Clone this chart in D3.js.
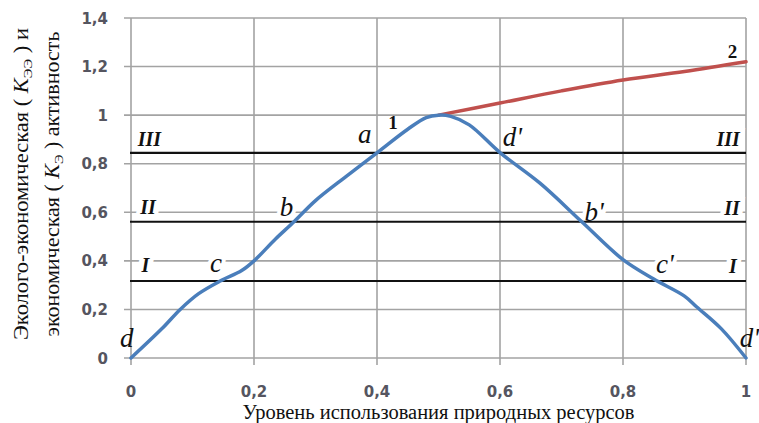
<!DOCTYPE html>
<html>
<head>
<meta charset="utf-8">
<script src="https://cdn.jsdelivr.net/npm/d3@7"></script>
<style>
  html, body { margin: 0; padding: 0; background: #fff; }
  svg { display: block; }
</style>
</head>
<body>
<svg id="chart" width="759" height="423"></svg>
<script>
// ---- data ----
const xTicks = [0, 0.2, 0.4, 0.6, 0.8, 1];
const yTicks = [0, 0.2, 0.4, 0.6, 0.8, 1, 1.2, 1.4];
const xTickLabels = ["0", "0,2", "0,4", "0,6", "0,8", "1"];
const yTickLabels = ["0", "0,2", "0,4", "0,6", "0,8", "1", "1,2", "1,4"];

// curve 1 (blue): economic activity
const curve1X = [0, 0.05, 0.08, 0.11, 0.145, 0.18, 0.2, 0.235, 0.265, 0.3, 0.35, 0.4, 0.45, 0.48, 0.5, 0.52, 0.55, 0.6, 0.665, 0.733, 0.8, 0.85, 0.9, 0.92, 0.96, 1];
const curve1Y = [0, 0.12, 0.2, 0.265, 0.317, 0.36, 0.40, 0.49, 0.561, 0.648, 0.748, 0.845, 0.942, 0.99, 1.0, 0.995, 0.96, 0.846, 0.72, 0.561, 0.405, 0.325, 0.255, 0.21, 0.12, 0];

// curve 2 (red): ecological-economic activity
const curve2X = [0.5, 0.6, 0.7, 0.8, 0.9, 1];
const curve2Y = [1.0, 1.05, 1.1, 1.145, 1.18, 1.22];

// horizontal level lines I, II, III
const levelNames = ["I", "II", "III"];
const levelValues = [0.317, 0.561, 0.845];

// point annotations
const pointLabels = ["d", "c", "b", "a", "d'", "b'", "c'", "d'"];
const pointLabelX = [-0.007, 0.138, 0.253, 0.380, 0.620, 0.753, 0.868, 0.990];
const pointLabelY = [0.046, 0.354, 0.583, 0.885, 0.873, 0.564, 0.350, 0.046];
const pointLabelHalo = [false, true, true, false, false, true, true, false];

const curveNames = ["1", "2"];
const curveNameX = [0.426, 0.978];
const curveNameY = [0.945, 1.235];

// ---- layout ----
const svg = d3.select("#chart");
const m = { left: 131, top: 18, right: 13, bottom: 65 };
const W = 759 - m.left - m.right;   // 615
const H = 423 - m.top - m.bottom;   // 340

const x = d3.scaleLinear().domain([0, 1]).range([m.left, m.left + W]);
const y = d3.scaleLinear().domain([0, 1.4]).range([m.top + H, m.top]);

const gridColor = "#a3a3a3";
const g = svg.append("g");

// horizontal gridlines + left tick marks
g.selectAll("line.hgrid").data(yTicks).join("line")
  .attr("x1", x(0) - 7).attr("x2", x(1))
  .attr("y1", d => y(d)).attr("y2", d => y(d))
  .attr("stroke", gridColor).attr("stroke-width", 1.6);

// vertical gridlines + bottom tick marks
g.selectAll("line.vgrid").data(xTicks).join("line")
  .attr("x1", d => x(d)).attr("x2", d => x(d))
  .attr("y1", y(1.4)).attr("y2", y(0) + 7)
  .attr("stroke", gridColor).attr("stroke-width", 1.6);

// tick labels
const tickFont = "'DejaVu Sans', Verdana, sans-serif";
g.selectAll("text.yt").data(yTicks).join("text")
  .attr("x", 108).attr("y", d => y(d) + 5.5)
  .attr("text-anchor", "end")
  .attr("font-family", tickFont).attr("font-size", 15).attr("font-weight", "bold")
  .attr("fill", "#555560")
  .text((d, i) => yTickLabels[i]);

g.selectAll("text.xt").data(xTicks).join("text")
  .attr("x", d => x(d)).attr("y", 397)
  .attr("text-anchor", "middle")
  .attr("font-family", tickFont).attr("font-size", 15).attr("font-weight", "bold")
  .attr("fill", "#555560")
  .text((d, i) => xTickLabels[i]);

// annotation helpers
const serif = "'Liberation Serif', 'Times New Roman', serif";
const romanLeftX = [0.017, 0.015, 0.011];
const romanRightX = [0.985, 0.990, 0.990];
const romanY = [0.354, 0.593, 0.875];

const ann = [];
levelNames.forEach((n, i) => {
  ann.push({ t: n, x: romanLeftX[i], y: romanY[i], anchor: "start", halo: true, style: "roman" });
  ann.push({ t: n, x: romanRightX[i], y: romanY[i] - 0.004, anchor: "end", halo: true, style: "roman" });
});
pointLabels.forEach((t, i) => {
  ann.push({ t, x: pointLabelX[i], y: pointLabelY[i], anchor: i === 7 ? "start" : "middle", halo: pointLabelHalo[i], style: "point" });
});
curveNames.forEach((t, i) => {
  ann.push({ t, x: curveNameX[i], y: curveNameY[i], anchor: "middle", halo: false, style: "num" });
});

function styleText(sel) {
  sel.attr("x", d => x(d.x)).attr("y", d => y(d.y))
    .attr("text-anchor", d => d.anchor)
    .attr("font-family", serif)
    .attr("font-size", d => d.style === "roman" ? 20 : d.style === "point" ? 27 : 19)
    .attr("font-style", d => d.style === "num" ? "normal" : "italic")
    .attr("font-weight", d => d.style === "point" ? "normal" : "bold")
    .text(d => d.t);
}

// halos (white) to break gridlines behind labels
g.selectAll("text.halo").data(ann.filter(d => d.halo)).join("text")
  .call(styleText)
  .attr("fill", "#fff").attr("stroke", "#fff").attr("stroke-width", 8);

// level lines
g.selectAll("line.level").data(levelValues).join("line")
  .attr("x1", x(0) - 1).attr("x2", x(1))
  .attr("y1", d => y(d)).attr("y2", d => y(d))
  .attr("stroke", "#111").attr("stroke-width", 2.2);

// curves
const line = d3.line().x(d => x(d[0])).y(d => y(d[1])).curve(d3.curveCatmullRom.alpha(0.5));
g.append("path")
  .datum(curve2X.map((v, i) => [v, curve2Y[i]]))
  .attr("d", line).attr("fill", "none")
  .attr("stroke", "#c0504d").attr("stroke-width", 3.5).attr("stroke-linecap", "round");
g.append("path")
  .datum(curve1X.map((v, i) => [v, curve1Y[i]]))
  .attr("d", line).attr("fill", "none")
  .attr("stroke", "#4a7ebb").attr("stroke-width", 3.5).attr("stroke-linecap", "round");

// annotation text
g.selectAll("text.ann").data(ann).join("text")
  .call(styleText)
  .attr("fill", "#111");

// x-axis title
svg.append("text")
  .attr("x", x(0.5)).attr("y", 419)
  .attr("text-anchor", "middle")
  .attr("font-family", serif).attr("font-size", 20.5).attr("fill", "#111")
  .text("Уровень использования природных ресурсов");

// y-axis title (two rotated lines)
function yTitle(cx, len, pre, sub, post) {
  const t = svg.append("text")
    .attr("transform", `translate(${cx},184) rotate(-90)`)
    .attr("text-anchor", "middle")
    .attr("font-family", serif).attr("font-size", 20).attr("fill", "#111")
    .attr("textLength", len).attr("lengthAdjust", "spacingAndGlyphs");
  t.append("tspan").text(pre);
  t.append("tspan").attr("font-style", "italic").text("K");
  t.append("tspan").attr("font-size", 13).attr("dy", 4).text(sub);
  t.append("tspan").attr("dy", -4).text(post);
}
yTitle(28, 312, "Эколого-экономическая ( ", "ЭЭ", " ) и");
yTitle(59, 305, "экономическая ( ", "Э", " ) активность");
</script>
</body>
</html>
